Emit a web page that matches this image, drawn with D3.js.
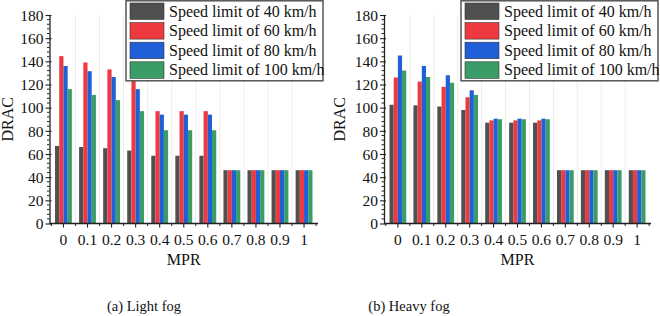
<!DOCTYPE html>
<html>
<head>
<meta charset="utf-8">
<script src="https://cdn.jsdelivr.net/npm/d3@7"></script>
<style>
  body { margin: 0; background: #fff; }
  svg { display: block; }
  svg text { font-family: "Liberation Serif", "Times New Roman", Times, serif; }
</style>
</head>
<body>
<svg width="660" height="316"></svg>
<script>
// categories + series
var mpr = ["0", "0.1", "0.2", "0.3", "0.4", "0.5", "0.6", "0.7", "0.8", "0.9", "1"];
var seriesNames = ["Speed limit of 40 km/h", "Speed limit of 60 km/h", "Speed limit of 80 km/h", "Speed limit of 100 km/h"];
var colors = ["#505050", "#ee3a3f", "#1f5fd8", "#3a9c66"];
var yTicks = [0, 20, 40, 60, 80, 100, 120, 140, 160, 180];

var lightFog40  = [67, 66, 65, 63, 58.5, 58.5, 58.5, 46, 46, 46, 46];
var lightFog60  = [144.5, 139, 133, 127, 97, 97, 97, 46, 46, 46, 46];
var lightFog80  = [136, 131.5, 126.5, 116, 94, 94, 94, 46, 46, 46, 46];
var lightFog100 = [116, 111, 106.5, 97, 80.5, 80.5, 80.5, 46, 46, 46, 46];

var heavyFog40  = [102.5, 102, 101, 98, 87, 87, 87, 46, 46, 46, 46];
var heavyFog60  = [126, 122.5, 118, 109, 89, 89, 89, 46, 46, 46, 46];
var heavyFog80  = [145, 136, 128, 115, 90.5, 90.5, 90.5, 46, 46, 46, 46];
var heavyFog100 = [132, 126.5, 121.5, 111, 90, 90, 90, 46, 46, 46, 46];

var svg = d3.select("svg");

function drawPanel(opt) {
    var x0 = opt.left, x1 = opt.right, yTop = 15, yBot = 223.5;
    var g = svg.append("g");

    var x = d3.scaleBand().domain(mpr).range([x0, x1])
        .paddingInner(0.3).paddingOuter(0.23);
    var xs = d3.scaleBand().domain(d3.range(4)).range([0, x.bandwidth()]);
    var y = d3.scaleLinear().domain([0, 180]).range([yBot, yTop]);

    // boundaries between categories (grid + minor ticks)
    var half = x.step() * x.paddingInner() / 2;
    var bounds = mpr.map(function(d) { return x(d) - half; });
    bounds.push(x(mpr[mpr.length - 1]) + x.bandwidth() + half);

    g.selectAll(".grid").data(bounds.slice(1, -1)).enter().append("line")
        .attr("x1", function(d) { return d; }).attr("x2", function(d) { return d; })
        .attr("y1", yTop).attr("y2", yBot)
        .attr("stroke", "#ececec").attr("stroke-width", 1);

    var series = opt.data.map(function(vals, i) {
        return vals.map(function(v, j) { return { cat: mpr[j], s: i, v: v }; });
    });

    g.selectAll(".series").data(series).enter().append("g")
        .attr("fill", function(d, i) { return colors[i]; })
        .selectAll("rect").data(function(d) { return d; }).enter().append("rect")
        .attr("x", function(d) { return x(d.cat) + xs(d.s); })
        .attr("width", xs.bandwidth())
        .attr("y", function(d) { return y(d.v); })
        .attr("height", function(d) { return yBot - y(d.v); });

    // y axis
    var yAxis = g.append("g").attr("transform", "translate(" + x0 + ",0)")
        .call(d3.axisLeft(y).tickValues(yTicks).tickSize(4).tickSizeOuter(0));
    yAxis.selectAll(".tick line").attr("x1", -4).attr("x2", 2);
    g.append("g").attr("transform", "translate(" + x0 + ",0)")
        .selectAll("line").data(d3.range(0, 181, 4).filter(function(v) { return v % 20 !== 0; }))
        .enter().append("line")
        .attr("x1", -2.5).attr("x2", 0)
        .attr("y1", function(d) { return y(d); }).attr("y2", function(d) { return y(d); })
        .attr("stroke", "#222");

    // x axis
    var xAxis = g.append("g").attr("transform", "translate(0," + yBot + ")")
        .call(d3.axisBottom(x).tickSize(4).tickSizeOuter(0));
    xAxis.select(".domain").attr("d", "M" + x0 + ",0H" + x1);
    g.append("g").attr("transform", "translate(0," + yBot + ")")
        .selectAll("line").data(bounds).enter().append("line")
        .attr("x1", function(d) { return d; }).attr("x2", function(d) { return d; })
        .attr("y1", 0).attr("y2", 2.5).attr("stroke", "#222");

    [yAxis, xAxis].forEach(function(a) {
        a.attr("font-family", null);
        a.select(".domain").attr("stroke", "#222").attr("stroke-width", 1.3);
        a.selectAll(".tick line").attr("stroke", "#222").attr("stroke-width", 1.1);
        a.selectAll("text").attr("font-size", 15.5).attr("fill", "#111");
    });
    yAxis.selectAll("text").attr("x", -6).attr("dy", "0.34em");
    xAxis.selectAll("text").attr("y", 10);

    g.append("text").attr("transform", "translate(" + opt.yLabelX + "," + (yTop + yBot) / 2 + ") rotate(-90)")
        .attr("text-anchor", "middle").attr("font-size", 16).attr("fill", "#111").text("DRAC");
    g.append("text").attr("x", (x0 + x1) / 2).attr("y", 265)
        .attr("text-anchor", "middle").attr("font-size", 16).attr("fill", "#111").text("MPR");

    // legend
    var lg = g.append("g").attr("transform", "translate(" + opt.legendX + ",0)");
    lg.append("rect").attr("x", 0).attr("y", 0.8).attr("width", 197).attr("height", 80)
        .attr("fill", "#fff").attr("stroke", "#555").attr("stroke-width", 1.5);
    var item = lg.selectAll(".item").data(seriesNames).enter().append("g")
        .attr("transform", function(d, i) { return "translate(0," + (3 + i * 19.6) + ")"; });
    item.append("rect").attr("x", 4).attr("y", 0).attr("width", 34).attr("height", 16.5)
        .attr("fill", function(d, i) { return colors[i]; })
        .attr("stroke", "#333").attr("stroke-width", 0.6);
    item.append("text").attr("x", 43).attr("y", 13.5)
        .attr("font-size", 16).attr("fill", "#111").text(function(d) { return d; });

    svg.append("text").attr("x", opt.captionX).attr("y", 311)
        .attr("text-anchor", "middle").attr("font-size", 14.5).attr("fill", "#111").text(opt.caption);
}

drawPanel({ left: 49.5, right: 318, legendX: 126, yLabelX: 13, captionX: 144, caption: "(a) Light fog",
    data: [lightFog40, lightFog60, lightFog80, lightFog100] });
drawPanel({ left: 384, right: 651, legendX: 461, yLabelX: 345, captionX: 409, caption: "(b) Heavy fog",
    data: [heavyFog40, heavyFog60, heavyFog80, heavyFog100] });
</script>
</body>
</html>
